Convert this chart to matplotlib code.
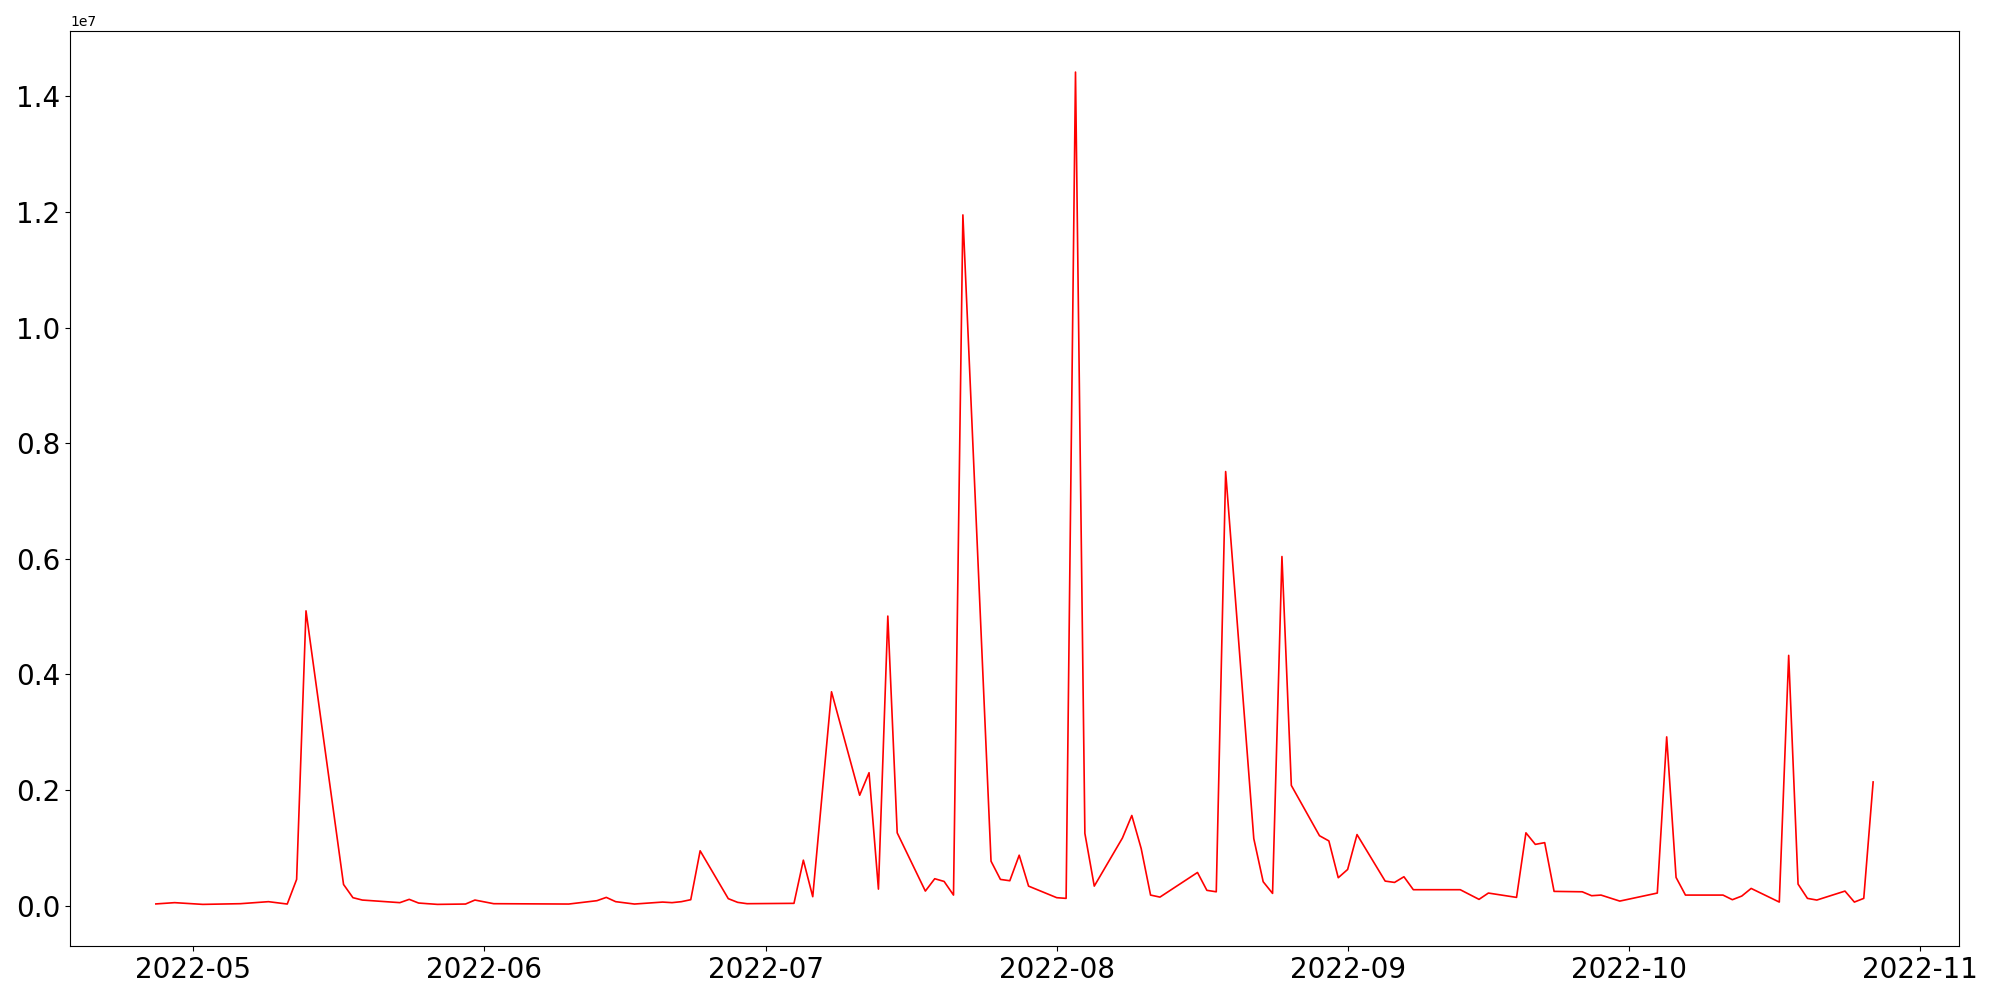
import matplotlib
matplotlib.use("Agg")
import matplotlib.pyplot as plt
import pandas as pd

dates = [
    "2022-04-27", "2022-04-29", "2022-05-02", "2022-05-06", "2022-05-09", "2022-05-11",
    "2022-05-12", "2022-05-13", "2022-05-17", "2022-05-18", "2022-05-19", "2022-05-23",
    "2022-05-24", "2022-05-25", "2022-05-27", "2022-05-30", "2022-05-31", "2022-06-02",
    "2022-06-10", "2022-06-13", "2022-06-14", "2022-06-15", "2022-06-17", "2022-06-20",
    "2022-06-21", "2022-06-22", "2022-06-23", "2022-06-24", "2022-06-27", "2022-06-28",
    "2022-06-29", "2022-07-04", "2022-07-05", "2022-07-06", "2022-07-08", "2022-07-11",
    "2022-07-12", "2022-07-13", "2022-07-14", "2022-07-15", "2022-07-18", "2022-07-19",
    "2022-07-20", "2022-07-21", "2022-07-22", "2022-07-25", "2022-07-26", "2022-07-27",
    "2022-07-28", "2022-07-29", "2022-08-01", "2022-08-02", "2022-08-03", "2022-08-04",
    "2022-08-05", "2022-08-08", "2022-08-09", "2022-08-10", "2022-08-11", "2022-08-12",
    "2022-08-16", "2022-08-17", "2022-08-18", "2022-08-19", "2022-08-22", "2022-08-23",
    "2022-08-24", "2022-08-25", "2022-08-26", "2022-08-29", "2022-08-30", "2022-08-31",
    "2022-09-01", "2022-09-02", "2022-09-05", "2022-09-06", "2022-09-07", "2022-09-08",
    "2022-09-13", "2022-09-15", "2022-09-16", "2022-09-19", "2022-09-20", "2022-09-21",
    "2022-09-22", "2022-09-23", "2022-09-26", "2022-09-27", "2022-09-28", "2022-09-30",
    "2022-10-04", "2022-10-05", "2022-10-06", "2022-10-07", "2022-10-11", "2022-10-12",
    "2022-10-13", "2022-10-14", "2022-10-17", "2022-10-18", "2022-10-19", "2022-10-20",
    "2022-10-21", "2022-10-24", "2022-10-25", "2022-10-26", "2022-10-27",
]

values = [
    30000, 52000, 22000, 34000, 69000, 28000,
    454000, 5100000, 367000, 138000, 97000, 52000,
    109000, 45000, 22000, 28000, 97000, 34000,
    28000, 86000, 143000, 69000, 28000, 62000,
    52000, 69000, 103000, 949000, 121000, 57000,
    34000, 40000, 787000, 155000, 3700000, 1910000,
    2300000, 286000, 5010000, 1260000, 252000, 466000,
    419000, 183000, 11950000, 769000, 454000, 431000,
    873000, 338000, 138000, 126000, 14420000, 1250000,
    338000, 1170000, 1560000, 988000, 183000, 148000,
    574000, 265000, 240000, 7510000, 1160000, 414000,
    212000, 6040000, 2080000, 1210000, 1120000, 483000,
    626000, 1230000, 425000, 402000, 500000, 276000,
    276000, 109000, 218000, 143000, 1260000, 1060000,
    1090000, 247000, 240000, 172000, 183000, 79000,
    218000, 2920000, 488000, 183000, 183000, 103000,
    166000, 298000, 62000, 4330000, 373000, 126000,
    97000, 252000, 62000, 126000, 2140000,
]

x = pd.to_datetime(dates)

fig = plt.figure(figsize=(20, 10), dpi=100)
ax = fig.add_axes([0.035, 0.054, 0.9445, 0.9155])
ax.plot(x, values, color="red", linewidth=1.2)
ax.tick_params(axis="both", labelsize=20)

fig.savefig("out.png", dpi=100)
